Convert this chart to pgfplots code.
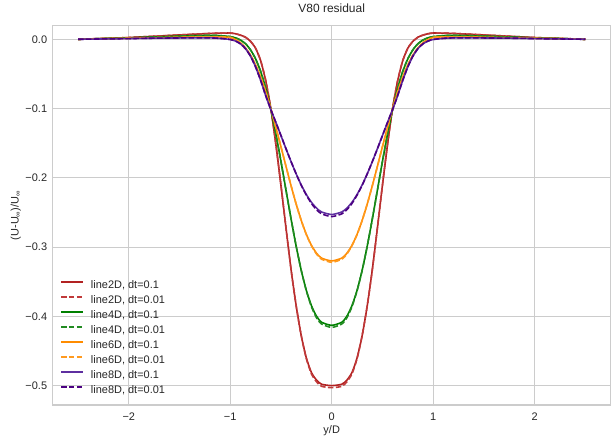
\documentclass[border=0pt]{standalone}
\usepackage{pgfplots}
\pgfplotsset{compat=1.18}
\usepackage{pgfplotstable}
\usepackage{fontspec}
\setmainfont{Liberation Sans}
\definecolor{gridc}{HTML}{CCCCCC}
\definecolor{txt}{HTML}{262626}
\definecolor{cR}{HTML}{B22222}
\definecolor{cRd}{HTML}{C03A3A}
\definecolor{cG}{HTML}{008000}
\definecolor{cGd}{HTML}{228B22}
\definecolor{cO}{HTML}{FF8C00}
\definecolor{cOd}{HTML}{FF9A1F}
\definecolor{cP}{HTML}{5E2FA0}
\definecolor{cPd}{HTML}{4B0082}
\pgfplotsset{
  myleg/.style={legend image code/.code={\draw[line width=1.8bp, ##1] (0bp,3.5bp) -- (22bp,3.5bp);}},
}

\pgfplotstableread{
x      r       rd      g       gd      o       od      p       pd
-2.5   0.0     0.0     0.0     0.0     0.0     0.0     0.0     0.0
-2.25  0.0012  0.0012  0.001   0.001   0.0008  0.0008  0.0005  0.0005
-2.0   0.0025  0.0025  0.002   0.002   0.0015  0.0015  0.001   0.001
-1.8   0.004   0.004   0.003   0.003   0.002   0.002   0.0015  0.0015
-1.6   0.0055  0.0055  0.004   0.004   0.0025  0.0025  0.0018  0.0018
-1.4   0.007   0.007   0.005   0.005   0.003   0.003   0.002   0.002
-1.2   0.0084  0.0084  0.0055  0.0055  0.003   0.003   0.002   0.002
-1.1   0.0088  0.0088  0.0052  0.0052  0.0035  0.0035  0.0013  0.0013
-1.0   0.009   0.009   0.0038  0.0038  0.0026  0.0026  -0.0003 -0.0003
-0.95  0.008   0.008   0.0021  0.0021  -0.0003 -0.0003 -0.0025 -0.0025
-0.9   0.006   0.006   -0.0011 -0.0011 -0.0049 -0.0049 -0.0065 -0.0065
-0.85  0.003   0.003   -0.0064 -0.0064 -0.0126 -0.0126 -0.0135 -0.0135
-0.8   -0.003  -0.003  -0.0153 -0.0153 -0.0229 -0.0229 -0.0245 -0.0245
-0.75  -0.013  -0.013  -0.0283 -0.0283 -0.0372 -0.0372 -0.040  -0.040
-0.7   -0.031  -0.031  -0.0465 -0.0465 -0.0549 -0.0549 -0.0595 -0.0595
-0.65  -0.060  -0.060  -0.0709 -0.0709 -0.0761 -0.0761 -0.0815 -0.0815
-0.6   -0.100  -0.100  -0.1012 -0.1012 -0.1004 -0.1004 -0.1015 -0.1015
-0.55  -0.152  -0.152  -0.1370 -0.1370 -0.1274 -0.1274 -0.1201 -0.1201
-0.5   -0.211  -0.211  -0.1765 -0.1765 -0.1552 -0.1552 -0.1391 -0.1391
-0.45  -0.273  -0.273  -0.2183 -0.2183 -0.1837 -0.1837 -0.1582 -0.1582
-0.4   -0.333  -0.333  -0.2597 -0.2597 -0.2117 -0.2117 -0.1768 -0.1768
-0.35  -0.385  -0.385  -0.2989 -0.2989 -0.2380 -0.2380 -0.1944 -0.1944
-0.3   -0.428  -0.428  -0.3337 -0.3337 -0.2616 -0.2616 -0.2103 -0.2110
-0.25  -0.460  -0.461  -0.3625 -0.3630 -0.2816 -0.2820 -0.2241 -0.2250
-0.2   -0.481  -0.483  -0.3845 -0.3860 -0.2974 -0.2980 -0.2353 -0.2370
-0.15  -0.492  -0.4945 -0.3997 -0.4020 -0.3088 -0.3100 -0.2437 -0.2460
-0.1   -0.498  -0.501  -0.4085 -0.4110 -0.3159 -0.3175 -0.2493 -0.2520
0.0    -0.500  -0.503  -0.4130 -0.4160 -0.3200 -0.3220 -0.2530 -0.2560
0.1    -0.498  -0.501  -0.4085 -0.4110 -0.3159 -0.3175 -0.2493 -0.2520
0.15   -0.492  -0.4945 -0.3997 -0.4020 -0.3088 -0.3100 -0.2437 -0.2460
0.2    -0.481  -0.483  -0.3845 -0.3860 -0.2974 -0.2980 -0.2353 -0.2370
0.25   -0.460  -0.461  -0.3625 -0.3630 -0.2816 -0.2820 -0.2241 -0.2250
0.3    -0.428  -0.428  -0.3337 -0.3337 -0.2616 -0.2616 -0.2103 -0.2110
0.35   -0.385  -0.385  -0.2989 -0.2989 -0.2380 -0.2380 -0.1944 -0.1944
0.4    -0.333  -0.333  -0.2597 -0.2597 -0.2117 -0.2117 -0.1768 -0.1768
0.45   -0.273  -0.273  -0.2183 -0.2183 -0.1837 -0.1837 -0.1582 -0.1582
0.5    -0.211  -0.211  -0.1765 -0.1765 -0.1552 -0.1552 -0.1391 -0.1391
0.55   -0.152  -0.152  -0.1370 -0.1370 -0.1274 -0.1274 -0.1201 -0.1201
0.6    -0.100  -0.100  -0.1012 -0.1012 -0.1004 -0.1004 -0.1015 -0.1015
0.65   -0.060  -0.060  -0.0709 -0.0709 -0.0761 -0.0761 -0.0815 -0.0815
0.7    -0.031  -0.031  -0.0465 -0.0465 -0.0549 -0.0549 -0.0595 -0.0595
0.75   -0.013  -0.013  -0.0283 -0.0283 -0.0372 -0.0372 -0.040  -0.040
0.8    -0.003  -0.003  -0.0153 -0.0153 -0.0229 -0.0229 -0.0245 -0.0245
0.85   0.003   0.003   -0.0064 -0.0064 -0.0126 -0.0126 -0.0135 -0.0135
0.9    0.006   0.006   -0.0011 -0.0011 -0.0049 -0.0049 -0.0065 -0.0065
0.95   0.008   0.008   0.0021  0.0021  -0.0003 -0.0003 -0.0025 -0.0025
1.0    0.009   0.009   0.0038  0.0038  0.0026  0.0026  -0.0003 -0.0003
1.1    0.0088  0.0088  0.0052  0.0052  0.0035  0.0035  0.0013  0.0013
1.2    0.0084  0.0084  0.0055  0.0055  0.003   0.003   0.002   0.002
1.4    0.007   0.007   0.005   0.005   0.003   0.003   0.002   0.002
1.6    0.0055  0.0055  0.004   0.004   0.0025  0.0025  0.0018  0.0018
1.8    0.004   0.004   0.003   0.003   0.002   0.002   0.0015  0.0015
2.0    0.0025  0.0025  0.002   0.002   0.0015  0.0015  0.001   0.001
2.25   0.0012  0.0012  0.001   0.001   0.0008  0.0008  0.0005  0.0005
2.5    0.0     0.0     0.0     0.0     0.0     0.0     0.0     0.0
}\datatab

\begin{document}
\begin{tikzpicture}
\path[use as bounding box] (-52.7bp,-34bp) rectangle (562.3bp,405bp);
\begin{axis}[
  at={(0,0)}, anchor=south west,
  scale only axis, width=558bp, height=379.3bp,
  xmin=-2.75, xmax=2.75, ymin=-0.528, ymax=0.0196,
  xtick={-2,-1,0,1,2}, xticklabels={−2,−1,0,1,2},
  ytick={-0.5,-0.4,-0.3,-0.2,-0.1,0}, yticklabels={−0.5,−0.4,−0.3,−0.2,−0.1,0.0},
  grid=major, major grid style={gridc, line width=0.9bp},
  axis line style={gridc, line width=1.1bp},
  major tick length=0pt,
  tick label style={font=\fontsize{11}{13}\selectfont, text=txt, inner sep=0pt},
  xticklabel style={anchor=base, yshift=-15bp},
  yticklabel style={anchor=base east, xshift=-5.4bp, yshift=-3.9bp},
  every axis title shift=0pt,
  title={V80 residual},
  title style={font=\fontsize{12}{14}\selectfont, text=txt, inner sep=0pt, at={(axis description cs:0.5,1)}, anchor=base, yshift=13.4bp},
  xlabel={y/D},
  xlabel style={font=\fontsize{11}{13}\selectfont, text=txt, inner sep=0pt, at={(axis description cs:0.5,0)}, anchor=base, yshift=-28bp},
  ylabel={(U-U\textsubscript{∞})/U\textsubscript{∞}},
  ylabel style={font=\fontsize{11}{13}\selectfont, text=txt, inner sep=0pt, at={(axis description cs:0,0.5)}, anchor=base, yshift=34bp},
  legend cell align=left,
  legend style={at={(axis description cs:0,0)}, anchor=south west, xshift=7.3bp, yshift=6.5bp,
    draw=none, fill=none, inner sep=0pt, font=\fontsize{11}{13}\selectfont,
    row sep=0pt, nodes={inner xsep=0pt, inner ysep=2.5bp, text height=8bp, text depth=2bp, text=txt},
    /tikz/every odd column/.append style={column sep=7bp}},
]
\addlegendimage{myleg, color=cR, draw=cR}
\addlegendentry{line2D, dt=0.1}
\addlegendimage{myleg, color=cRd, draw=cRd, dash pattern=on 5.5bp off 2.4bp}
\addlegendentry{line2D, dt=0.01}
\addlegendimage{myleg, color=cG, draw=cG}
\addlegendentry{line4D, dt=0.1}
\addlegendimage{myleg, color=cGd, draw=cGd, dash pattern=on 5.5bp off 2.4bp}
\addlegendentry{line4D, dt=0.01}
\addlegendimage{myleg, color=cO, draw=cO}
\addlegendentry{line6D, dt=0.1}
\addlegendimage{myleg, color=cOd, draw=cOd, dash pattern=on 5.5bp off 2.4bp}
\addlegendentry{line6D, dt=0.01}
\addlegendimage{myleg, color=cP, draw=cP}
\addlegendentry{line8D, dt=0.1}
\addlegendimage{myleg, color=cPd, draw=cPd, dash pattern=on 5.5bp off 2.4bp}
\addlegendentry{line8D, dt=0.01}
\addplot[forget plot, draw=cR, line width=1.6bp, smooth, tension=0.4] table[x=x, y=r] {\datatab};
\addplot[forget plot, draw=cRd, line width=1.6bp, dash pattern=on 5.5bp off 2.4bp, smooth, tension=0.4] table[x=x, y=rd] {\datatab};
\addplot[forget plot, draw=cG, line width=1.6bp, smooth, tension=0.4] table[x=x, y=g] {\datatab};
\addplot[forget plot, draw=cGd, line width=1.6bp, dash pattern=on 5.5bp off 2.4bp, smooth, tension=0.4] table[x=x, y=gd] {\datatab};
\addplot[forget plot, draw=cO, line width=1.6bp, smooth, tension=0.4] table[x=x, y=o] {\datatab};
\addplot[forget plot, draw=cOd, line width=1.6bp, dash pattern=on 5.5bp off 2.4bp, smooth, tension=0.4] table[x=x, y=od] {\datatab};
\addplot[forget plot, draw=cP, line width=1.6bp, smooth, tension=0.4] table[x=x, y=p] {\datatab};
\addplot[forget plot, draw=cPd, line width=1.6bp, dash pattern=on 5.5bp off 2.4bp, smooth, tension=0.4] table[x=x, y=pd] {\datatab};
\end{axis}
\end{tikzpicture}
\end{document}
